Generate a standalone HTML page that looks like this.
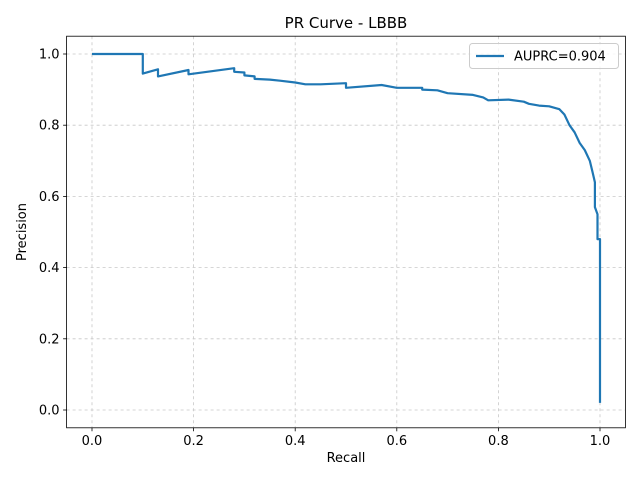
<!DOCTYPE html>
<html><head><meta charset="utf-8"><style>
body{margin:0;background:#fff}
svg text{font-family:"DejaVu Sans","Liberation Sans",sans-serif;fill:#000}
</style></head><body>
<svg id="c" width="640" height="480"></svg>
<script>
const recall=[0,0.1,0.1,0.13,0.13,0.19,0.19,0.28,0.28,0.3,0.3,0.32,0.32,0.35,0.37,0.4,0.42,0.45,0.5,0.5,0.57,0.6,0.65,0.65,0.68,0.7,0.75,0.77,0.78,0.82,0.85,0.86,0.88,0.9,0.92,0.93,0.94,0.95,0.96,0.97,0.98,0.985,0.99,0.99,0.995,0.995,1.0,1.0,1.0];
const precision=[1.0,1.0,0.945,0.957,0.937,0.955,0.943,0.96,0.95,0.948,0.94,0.937,0.93,0.928,0.925,0.92,0.915,0.915,0.918,0.905,0.913,0.905,0.905,0.9,0.898,0.89,0.885,0.878,0.87,0.872,0.866,0.86,0.855,0.853,0.845,0.83,0.8,0.78,0.75,0.73,0.7,0.67,0.64,0.57,0.55,0.48,0.48,0.38,0.02];
const xTicks=[0,0.2,0.4,0.6,0.8,1.0];
const yTicks=[0,0.2,0.4,0.6,0.8,1.0];
const legendLabel="AUPRC=0.904";
const NS="http://www.w3.org/2000/svg";
const svg=document.getElementById('c');
const L=66.6,R=625.4,T=36.2,B=427.8;
const sx=v=>L+(v+0.05)/1.1*(R-L);
const sy=v=>B-(v+0.05)/1.1*(B-T);
function mk(t,a,p){const e=document.createElementNS(NS,t);for(const k in a)e.setAttribute(k,a[k]);(p||svg).appendChild(e);return e;}
xTicks.forEach(v=>{
 const g=mk('line',{x1:sx(v),x2:sx(v),y1:T,y2:B,stroke:'#c8c8c8','stroke-width':0.8,'stroke-dasharray':'3,3'});
 
 
 mk('line',{x1:sx(v),x2:sx(v),y1:B,y2:B+3.5,stroke:'#000','stroke-width':0.8});
 const t=mk('text',{x:sx(v),y:B+17,'text-anchor':'middle','font-size':13});
 t.textContent=v.toFixed(1);
 
 
});
yTicks.forEach(v=>{
 const g=mk('line',{x1:L,x2:R,y1:sy(v),y2:sy(v),stroke:'#c8c8c8','stroke-width':0.8,'stroke-dasharray':'3,3'});
 
 
 mk('line',{x1:L-3.5,x2:L,y1:sy(v),y2:sy(v),stroke:'#000','stroke-width':0.8});
 const t=mk('text',{x:L-7,y:sy(v)+4.5,'text-anchor':'end','font-size':13});
 t.textContent=v.toFixed(1);
 
 
});
let d='';recall.forEach((r,i)=>{d+=(i?'L':'M')+sx(r).toFixed(1)+','+sy(precision[i]).toFixed(1);});
const line=mk('path',{d:d,fill:'none',stroke:'#1f77b4','stroke-width':2.2,'stroke-linejoin':'round'});


const fr=mk('rect',{x:L,y:T,width:R-L,height:B-T,fill:'none',stroke:'#000','stroke-width':0.8});


const ti=mk('text',{x:(L+R)/2,y:28,'text-anchor':'middle','font-size':15});
ti.textContent='PR Curve - LBBB';


const xl=mk('text',{x:(L+R)/2,y:462,'text-anchor':'middle','font-size':13});
xl.textContent='Recall';


const yl=mk('text',{x:0,y:0,'text-anchor':'middle','font-size':13,transform:'translate(26,'+((T+B)/2)+') rotate(-90)'});
yl.textContent='Precision';


const lg=mk('g',{});


mk('rect',{x:469.5,y:43.5,width:149,height:25,rx:3,fill:'#fff','fill-opacity':0.8,stroke:'#ccc'},lg);
mk('line',{x1:476,x2:504,y1:56,y2:56,stroke:'#1f77b4','stroke-width':2.2},lg);
const lt=mk('text',{x:514,y:60.5,'font-size':13},lg);
lt.textContent=legendLabel;


</script>
</body></html>
